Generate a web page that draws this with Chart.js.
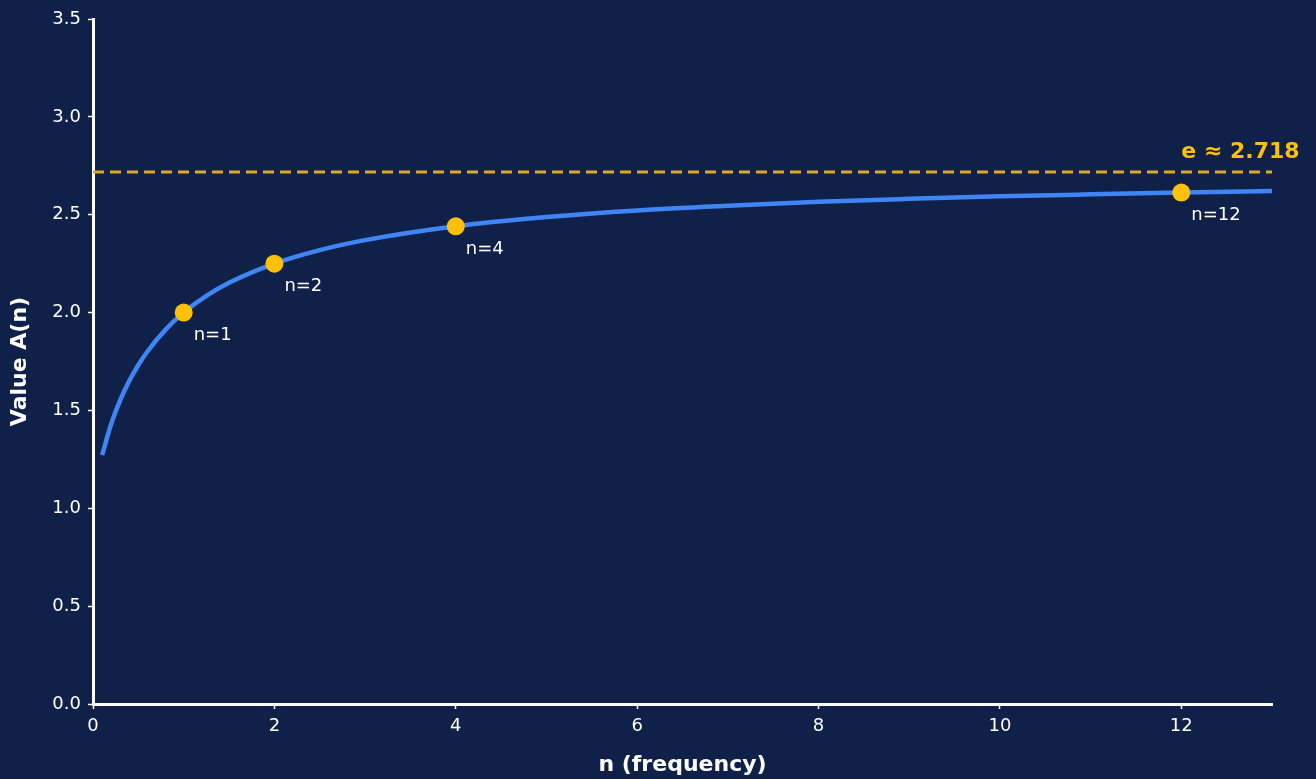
<!DOCTYPE html>
<html>
<head>
<meta charset="utf-8">
<script src="https://cdn.jsdelivr.net/npm/chart.js@4.4.1/dist/chart.umd.min.js"></script>
<style>
  html, body { margin: 0; padding: 0; background: #0f2049; }
  #wrap { width: 1316px; height: 779px; }
</style>
</head>
<body>
<div id="wrap"><canvas id="chart" width="1316" height="779"></canvas></div>
<script>
// curve A(n)
const curveN = [0.1, 0.2, 0.3, 0.4, 0.5, 0.6, 0.8, 1, 1.25, 1.5, 2, 2.5, 3, 4, 5, 6, 7, 8, 9, 10, 11, 12, 13];
const curveA = [1.271, 1.431, 1.553, 1.651, 1.732, 1.801, 1.913, 2.0, 2.085, 2.152, 2.25, 2.319, 2.370, 2.441, 2.488, 2.522, 2.546, 2.566, 2.581, 2.594, 2.604, 2.613, 2.621];

// highlighted points
const markN = [1, 2, 4, 12];
const markA = [2.0, 2.25, 2.441, 2.613];
const markLabels = ['n=1', 'n=2', 'n=4', 'n=12'];

// limit line
const eValue = 2.718;
const eLabel = 'e \u2248 2.718';

const xTitle = 'n (frequency)';
const yTitle = 'Value A(n)';

const BG = '#0f2049';
const FG = '#ffffff';

Chart.defaults.font.family = "'DejaVu Sans', sans-serif";
Chart.defaults.color = FG;

const bgPlugin = {
  id: 'bg',
  beforeDraw(c) {
    const ctx = c.ctx;
    ctx.save();
    ctx.fillStyle = BG;
    ctx.fillRect(0, 0, c.width, c.height);
    ctx.restore();
  }
};

// text next to markers + label of the e line
const labelPlugin = {
  id: 'labels',
  afterDatasetsDraw(c) {
    const ctx = c.ctx, xs = c.scales.x, ys = c.scales.y;
    ctx.save();
    ctx.fillStyle = FG;
    ctx.font = "18px 'DejaVu Sans'";
    ctx.textAlign = 'left';
    ctx.textBaseline = 'middle';
    markN.forEach((n, i) => {
      ctx.fillText(markLabels[i], xs.getPixelForValue(n) + 10, ys.getPixelForValue(markA[i]) + 23);
    });
    ctx.fillStyle = '#ffc107';
    ctx.font = "bold 22px 'DejaVu Sans'";
    ctx.fillText(eLabel, xs.getPixelForValue(12), ys.getPixelForValue(eValue) - 20);
    ctx.restore();
  }
};

new Chart(document.getElementById('chart'), {
  type: 'scatter',
  data: {
    datasets: [
      {
        data: markN.map((n, i) => ({ x: n, y: markA[i] })),
        backgroundColor: '#ffc107',
        borderWidth: 0,
        pointRadius: 9,
        showLine: false,
        order: 0
      },
      {
        data: [{ x: 0, y: eValue }, { x: 13, y: eValue }],
        borderColor: '#d9aa27',
        borderWidth: 3,
        borderDash: [11, 6],
        pointRadius: 0,
        showLine: true,
        order: 2
      },
      {
        data: curveN.map((n, i) => ({ x: n, y: curveA[i] })),
        borderColor: '#3f86f4',
        borderWidth: 4.5,
        pointRadius: 0,
        showLine: true,
        cubicInterpolationMode: 'monotone',
        order: 1
      }
    ]
  },
  options: {
    responsive: false,
    animation: false,
    layout: { padding: { top: 19, right: 44, left: 0, bottom: 0 } },
    plugins: { legend: { display: false }, tooltip: { enabled: false } },
    scales: {
      x: {
        type: 'linear',
        min: 0, max: 13,
        afterFit(s) { s.height = 75; },
        border: { display: true, color: FG, width: 3 },
        grid: { display: true, drawOnChartArea: false, drawTicks: true, tickLength: 5, color: FG, tickWidth: 1.5 },
        ticks: { stepSize: 2, includeBounds: false, color: FG, font: { size: 18 }, padding: 7 },
        title: { display: true, text: xTitle, color: FG, font: { size: 22, weight: 'bold' }, padding: { top: 16, bottom: 1 } }
      },
      y: {
        min: 0, max: 3.5,
        afterFit(s) { s.width = 93; },
        border: { display: true, color: FG, width: 3 },
        grid: { display: true, drawOnChartArea: false, drawTicks: true, tickLength: 5, color: FG, tickWidth: 1.5 },
        ticks: { stepSize: 0.5, color: FG, font: { size: 18 }, padding: 7, callback: v => v.toFixed(1) },
        title: { display: true, text: yTitle, color: FG, font: { size: 22, weight: 'bold' }, padding: { top: 7, bottom: 0 } }
      }
    }
  },
  plugins: [bgPlugin, labelPlugin]
});
</script>
</body>
</html>
